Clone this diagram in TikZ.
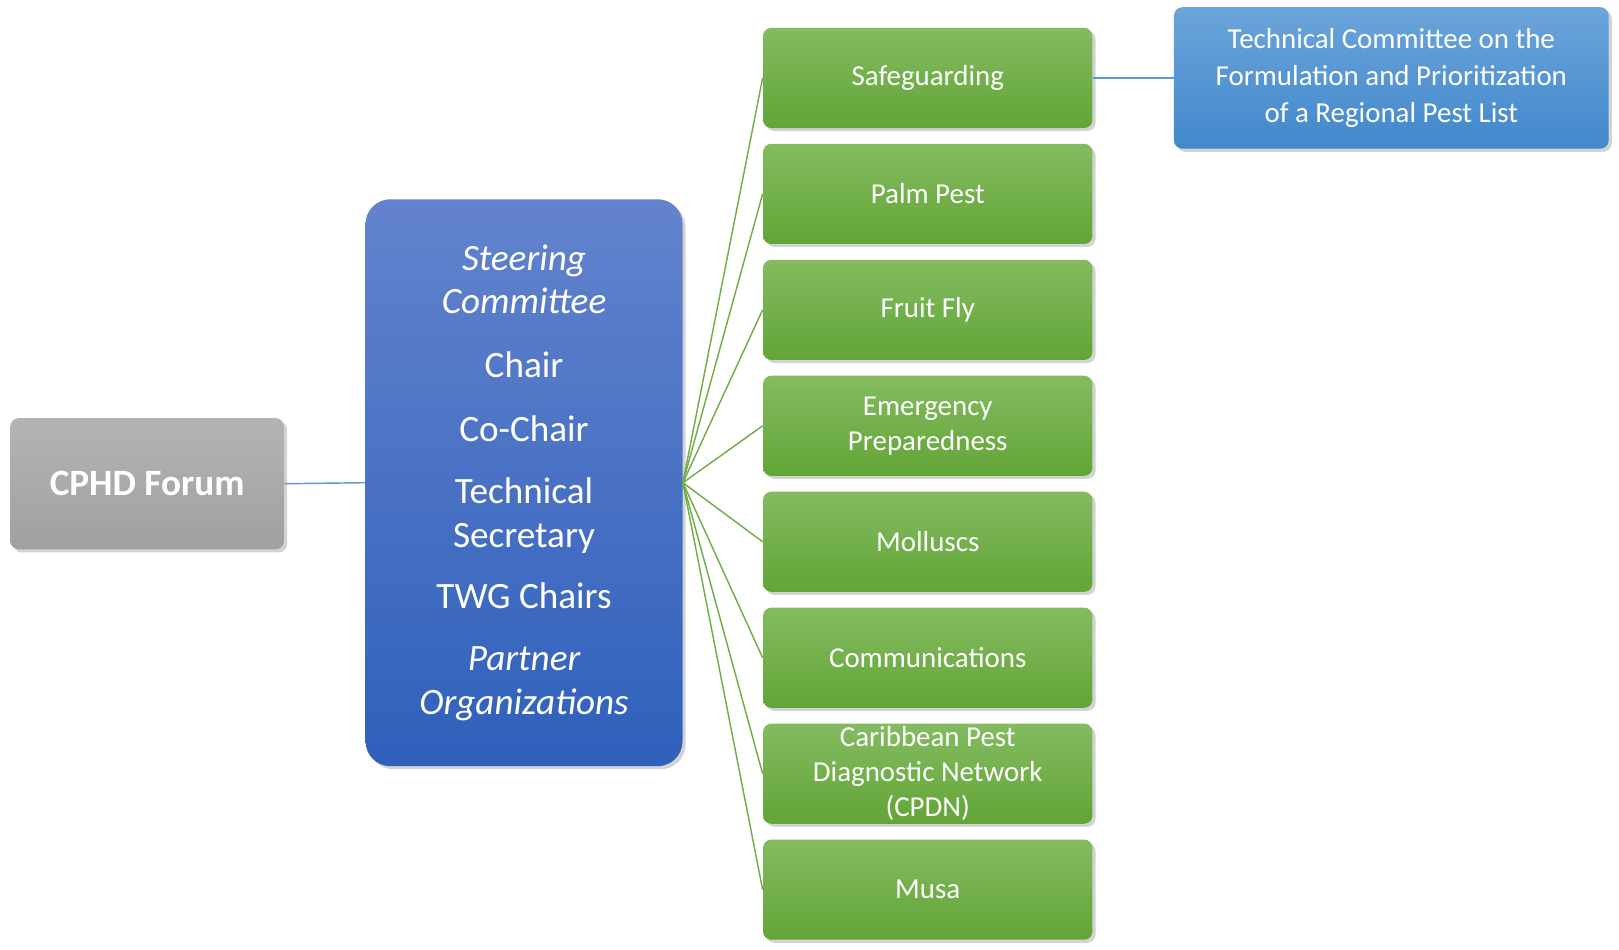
\documentclass[tikz,border=0pt]{standalone}
\usepackage{fontspec}
\setmainfont{Carlito}
\usetikzlibrary{shadows}
\begin{document}
\begin{tikzpicture}[x=0.5pt,y=-0.5pt,
 box/.style={rounded corners=4pt,drop shadow={opacity=0.35,shadow xshift=1.5pt,shadow yshift=-1.5pt},text=white,align=center,inner sep=0pt},
 grn/.style={box,top color=green!40!black!30!white!0!green,top color={rgb,255:red,132;green,187;blue,96},bottom color={rgb,255:red,98;green,165;blue,55},minimum width=159.5pt,minimum height=48.5pt,font=\fontsize{14}{17}\selectfont},
 gl/.style={draw={rgb,255:red,112;green,173;blue,71},line width=0.7pt},
 bl/.style={draw={rgb,255:red,91;green,155;blue,213},line width=0.7pt}]
\useasboundingbox (0,0) rectangle (1568,920);
\node[box,top color={rgb,255:red,180;green,180;blue,180},bottom color={rgb,255:red,160;green,160;blue,160},minimum width=132.5pt,minimum height=63.5pt,font=\fontsize{18}{22}\selectfont\bfseries] (f) at (142.5,468.5) {CPHD Forum};
\node[box,rounded corners=12pt,top color={rgb,255:red,99;green,131;blue,205},bottom color={rgb,255:red,47;green,96;blue,187},minimum width=153.5pt,minimum height=274.5pt,font=\fontsize{18}{22}\selectfont] (s) at (507.5,467.5) {\itshape Steering\\[-1pt]\itshape Committee\\[9pt] Chair\\[9pt] Co-Chair\\[8pt] Technical\\[-1pt] Secretary\\[8pt] TWG Chairs\\[8pt] \itshape Partner\\[-1pt] \itshape Organizations};
\foreach \n/\t [count=\i from 0] in {a/Safeguarding,b/Palm Pest,c/Fruit Fly,d/{Emergency\\Preparedness},e/Molluscs,g/Communications,h/{Caribbean Pest\\Diagnostic Network\\(CPDN)},k/Musa}{
 \node[grn] (\n) at (898.5,75.5+112.3*\i) {\t};
 \draw[gl] (s.east) -- (\n.west);
}
\node[box,top color={rgb,255:red,108;green,164;blue,218},bottom color={rgb,255:red,66;green,136;blue,204},minimum width=210.5pt,minimum height=68.5pt,font=\fontsize{14}{18}\selectfont] (t) at (1347.5,75.5) {Technical Committee on the\\Formulation and Prioritization\\of a Regional Pest List};
\draw[bl] (f.east) -- (s.west);
\draw[bl] (a.east) -- (t.west);
\end{tikzpicture}
\end{document}
